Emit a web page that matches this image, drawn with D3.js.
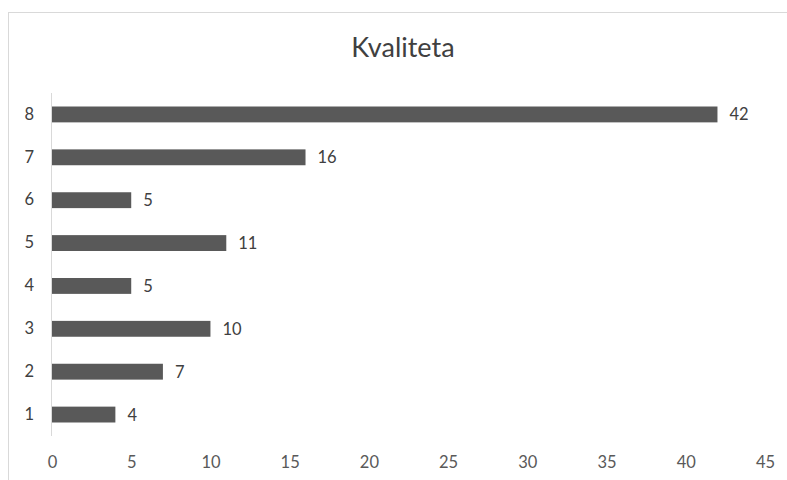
<!DOCTYPE html>
<html>
<head>
<meta charset="utf-8">
<script src="https://cdn.jsdelivr.net/npm/d3@7"></script>
<style>
  body { margin: 0; background: #fff; }
  svg { font-family: Lato, "Open Sans", sans-serif; }
</style>
</head>
<body>
<script>
// Podaci
const categories = ["1", "2", "3", "4", "5", "6", "7", "8"];
const values = [4, 7, 10, 5, 11, 5, 16, 42];
const xTicks = [0, 5, 10, 15, 20, 25, 30, 35, 40, 45];
const title = "Kvaliteta";

const width = 787;
const height = 480;

const svg = d3.select("body")
  .append("svg")
  .attr("width", width)
  .attr("height", height);

// okvir grafikona
svg.append("rect")
  .attr("x", 8.5)
  .attr("y", 12.5)
  .attr("width", 820)
  .attr("height", 520)
  .attr("fill", "#fff")
  .attr("stroke", "#d9d9d9");

svg.append("text")
  .attr("x", 403)
  .attr("y", 57)
  .attr("text-anchor", "middle")
  .attr("font-size", 27)
  .attr("fill", "#404040")
  .text(title);

const x = d3.scaleLinear()
  .domain([0, 45])
  .range([52, 765]);

const y = d3.scaleBand()
  .domain(categories.slice().reverse())
  .range([93, 436])
  .paddingInner(0.63)
  .paddingOuter(0.315);

// y os
svg.append("line")
  .attr("x1", 51.5).attr("x2", 51.5)
  .attr("y1", 93).attr("y2", 436)
  .attr("stroke", "#d9d9d9");

const yAxis = svg.append("g")
  .attr("transform", "translate(34,0)")
  .call(d3.axisLeft(y).tickSize(0).tickPadding(0));
yAxis.select(".domain").remove();
yAxis.selectAll("text")
  .attr("font-size", 16.5)
  .attr("font-family", "Lato, sans-serif")
  .attr("fill", "#404040");

// x os (samo oznake)
const xAxis = svg.append("g")
  .attr("transform", "translate(0,456)")
  .call(d3.axisBottom(x).tickValues(xTicks).tickSize(0).tickPadding(0));
xAxis.select(".domain").remove();
xAxis.selectAll("text")
  .attr("font-size", 16.5)
  .attr("font-family", "Lato, sans-serif")
  .attr("fill", "#595959");

// stupci
svg.append("g")
  .selectAll("rect")
  .data(values)
  .enter()
  .append("rect")
  .attr("x", x(0))
  .attr("y", (d, i) => y(categories[i]))
  .attr("width", d => x(d) - x(0))
  .attr("height", y.bandwidth())
  .attr("fill", "#595959");

// oznake vrijednosti
svg.append("g")
  .selectAll("text")
  .data(values)
  .enter()
  .append("text")
  .attr("x", d => x(d) + 12)
  .attr("y", (d, i) => y(categories[i]) + y.bandwidth() / 2)
  .attr("dy", "0.36em")
  .attr("font-size", 16.5)
  .attr("fill", "#404040")
  .text(d => d);
</script>
</body>
</html>
